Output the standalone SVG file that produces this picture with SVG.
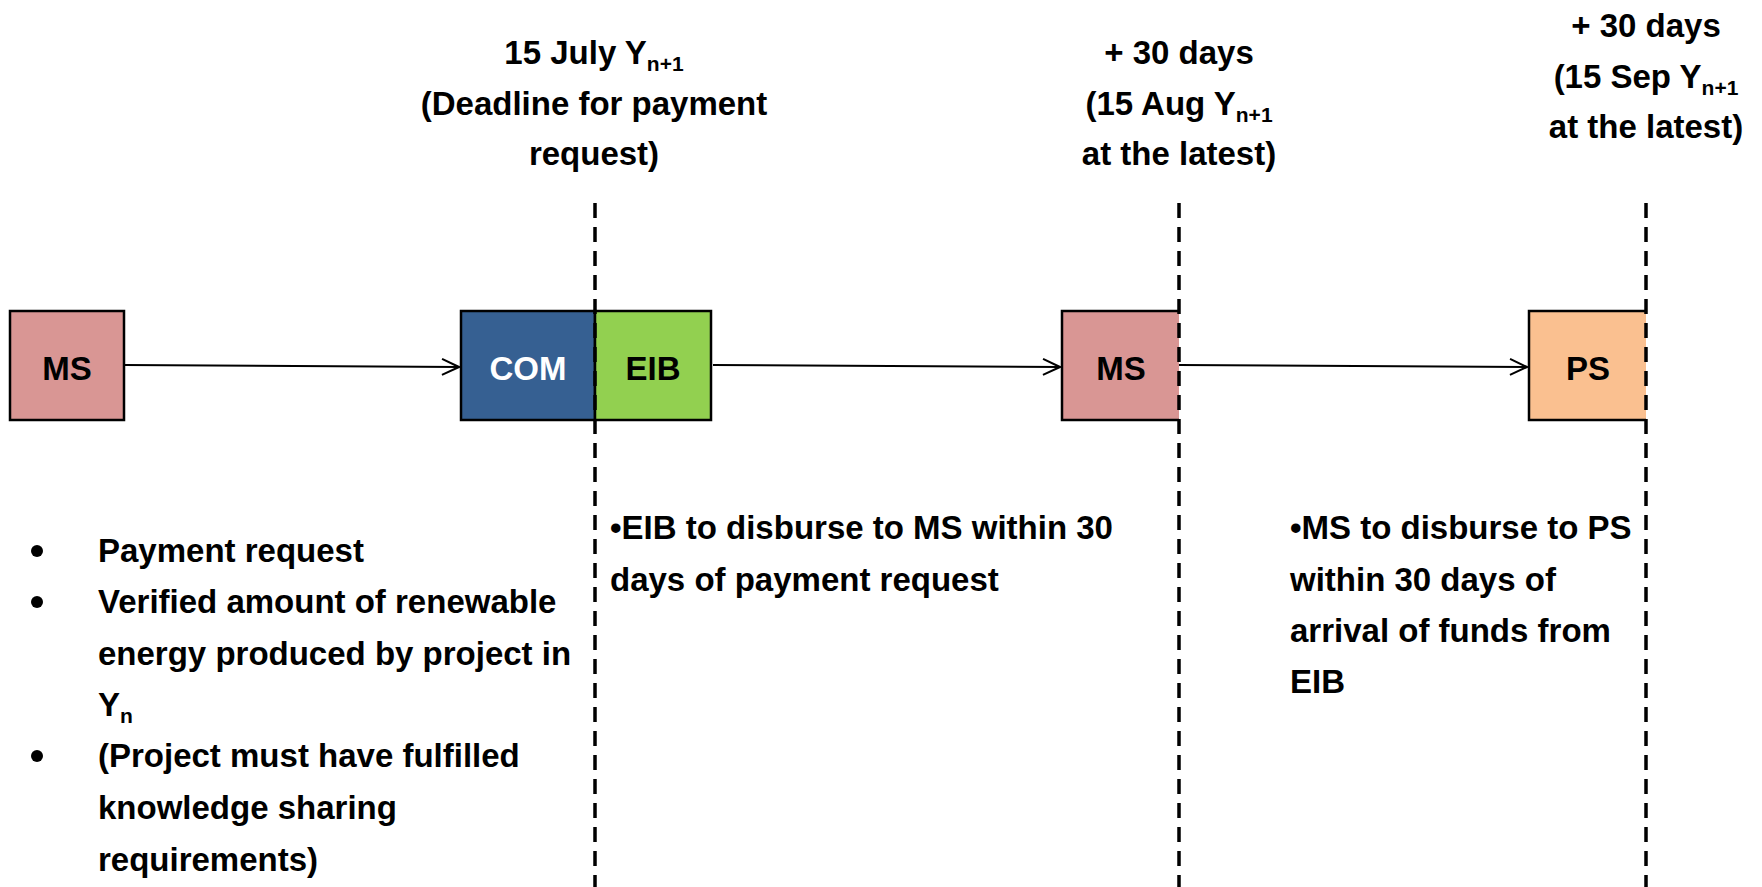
<svg xmlns="http://www.w3.org/2000/svg" width="1762" height="887" viewBox="0 0 1762 887">
<defs>
<style>
text{font-family:"Liberation Sans",Arial,sans-serif;font-weight:bold;font-size:33px;fill:#000}
.c{text-anchor:middle}
.w{fill:#fff}
.sub{font-size:21px}
.box{stroke:#000;stroke-width:2.5}
.dash{stroke:#000;stroke-width:3.5;stroke-dasharray:15 9;fill:none}
.conn{stroke:#000;stroke-width:2;fill:none}
</style>
<marker id="arr" viewBox="0 0 20 20" refX="19" refY="10" markerWidth="20" markerHeight="20" markerUnits="userSpaceOnUse" orient="auto">
<path d="M2,2 L19,10 L2,18" fill="none" stroke="#000" stroke-width="2"/>
</marker>
</defs>
<rect width="1762" height="887" fill="#fff"/>

<g id="node-ms1">
<rect class="box" x="10" y="311" width="114" height="109" fill="#D99694"/>
<text class="c" x="67" y="380">MS</text>
</g>
<g id="node-com">
<path class="box" d="M595,311 H461 V420 H595 Z" fill="#366092"/>
<text class="c w" x="528" y="380">COM</text>
</g>
<g id="node-eib">
<path class="box" d="M595,311 H711 V420 H595 Z" fill="#92D050"/>
<text class="c" x="653" y="380">EIB</text>
</g>
<g id="node-ms2">
<path d="M1062,311 H1179 V420 H1062 Z" fill="#D99694"/>
<path class="box" d="M1179,311 H1062 V420 H1179" fill="none"/>
<text class="c" x="1121" y="380">MS</text>
</g>
<g id="node-ps">
<path d="M1529,311 H1646 V420 H1529 Z" fill="#FAC090"/>
<path class="box" d="M1646,311 H1529 V420 H1646" fill="none"/>
<text class="c" x="1588" y="380">PS</text>
</g>

<g id="timeline">
<line class="dash" x1="595" y1="203" x2="595" y2="887"/>
<line class="dash" x1="1179" y1="203" x2="1179" y2="887"/>
<line class="dash" x1="1646" y1="203" x2="1646" y2="887"/>
</g>

<g id="connectors">
<line class="conn" x1="124" y1="365" x2="459" y2="367" marker-end="url(#arr)"/>
<line class="conn" x1="713" y1="365" x2="1060" y2="367" marker-end="url(#arr)"/>
<line class="conn" x1="1179" y1="365" x2="1527" y2="367" marker-end="url(#arr)"/>
</g>

<g id="header-1">
<text class="c" x="594" y="64">15 July Y<tspan class="sub" dy="7">n+1</tspan></text>
<text class="c" x="594" y="115">(Deadline for payment</text>
<text class="c" x="594" y="165">request)</text>
</g>
<g id="header-2">
<text class="c" x="1179" y="64">+ 30 days</text>
<text class="c" x="1179" y="115">(15 Aug Y<tspan class="sub" dy="7">n+1</tspan></text>
<text class="c" x="1179" y="165">at the latest)</text>
</g>
<g id="header-3">
<text class="c" x="1646" y="37">+ 30 days</text>
<text class="c" x="1646" y="88">(15 Sep Y<tspan class="sub" dy="7">n+1</tspan></text>
<text class="c" x="1646" y="138">at the latest)</text>
</g>

<g id="notes-left">
<circle cx="37" cy="551" r="6"/>
<circle cx="37" cy="602" r="6"/>
<circle cx="37" cy="756" r="6"/>
<text x="98" y="562">Payment request</text>
<text x="98" y="613">Verified amount of renewable</text>
<text x="98" y="665">energy produced by project in</text>
<text x="98" y="716">Y<tspan class="sub" dy="7">n</tspan></text>
<text x="98" y="767">(Project must have fulfilled</text>
<text x="98" y="819">knowledge sharing</text>
<text x="98" y="871">requirements)</text>
</g>
<g id="notes-middle">
<text x="610" y="539">•EIB to disburse to MS within 30</text>
<text x="610" y="591">days of payment request</text>
</g>
<g id="notes-right">
<text x="1290" y="539">•MS to disburse to PS</text>
<text x="1290" y="591">within 30 days of</text>
<text x="1290" y="642">arrival of funds from</text>
<text x="1290" y="693">EIB</text>
</g>
</svg>
